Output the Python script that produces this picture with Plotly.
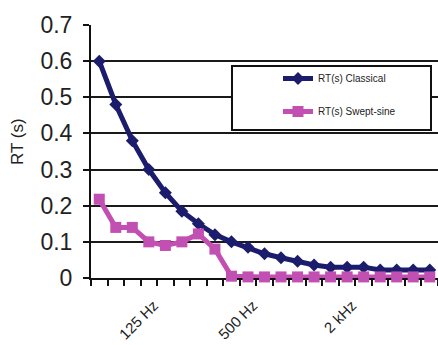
import plotly.graph_objects as go

# Third-octave band centres (category axis)
bands = ["63 Hz", "80 Hz", "100 Hz", "125 Hz", "160 Hz", "200 Hz", "250 Hz",
         "315 Hz", "400 Hz", "500 Hz", "630 Hz", "800 Hz", "1 kHz", "1.25 kHz",
         "1.6 kHz", "2 kHz", "2.5 kHz", "3.15 kHz", "4 kHz", "5 kHz", "6.3 kHz"]
shown_labels = ["125 Hz", "500 Hz", "2 kHz"]

rt_classical = [0.60, 0.48, 0.38, 0.30, 0.236, 0.185, 0.15, 0.12, 0.10, 0.085,
                0.067, 0.056, 0.046, 0.036, 0.030, 0.030, 0.030, 0.022, 0.022,
                0.022, 0.022]
rt_swept = [0.218, 0.14, 0.14, 0.10, 0.09, 0.10, 0.122, 0.08, 0.005, 0.003,
            0.003, 0.003, 0.003, 0.003, 0.003, 0.003, 0.003, 0.003, 0.003,
            0.003, 0.003]
y_ticks = [0, 0.1, 0.2, 0.3, 0.4, 0.5, 0.6, 0.7]

x_idx = list(range(len(bands)))
navy = "#1B1D6C"
magenta = "#C24FB2"
font = "Liberation Sans, Arial, sans-serif"

fig = go.Figure()
fig.add_trace(go.Scatter(
    x=x_idx, y=rt_classical, mode="lines+markers", name="RT(s) Classical",
    line=dict(color=navy, width=5), legendgroup="a",
    marker=dict(symbol="diamond", size=10, color=navy),
    cliponaxis=False))
fig.add_trace(go.Scatter(
    x=x_idx, y=rt_swept, mode="lines+markers", name="RT(s) Swept-sine",
    line=dict(color=magenta, width=5), legendgroup="b",
    marker=dict(symbol="square", size=11, color=magenta),
    cliponaxis=False))

L, R, T, B = 91, 0, 25, 67
W, H = 438, 345
pw, ph = W - L - R, H - T - B

def px_x(x):
    return (x - L) / pw

def px_y(y):
    return (H - B - y) / ph

fig.update_layout(
    width=W, height=H,
    margin=dict(l=L, r=R, t=T, b=B, pad=0, autoexpand=False),
    paper_bgcolor="white", plot_bgcolor="white",
    font=dict(family=font, color="#222"),
    showlegend=True,
    legend=dict(
        x=px_x(278), y=px_y(64), xanchor="left", yanchor="top",
        bgcolor="rgba(0,0,0,0)", borderwidth=0,
        font=dict(size=10, color="#222", family=font),
        tracegroupgap=14, itemwidth=30,
    ),
    xaxis=dict(
        range=[-0.5, len(bands) - 0.5],
        tickmode="array",
        tickvals=[bands.index(b) for b in shown_labels],
        ticktext=shown_labels,
        tickangle=-45,
        ticks="", showgrid=False, zeroline=False,
        showline=True, linecolor="#111", linewidth=2,
        tickfont=dict(size=15, color="#222"),
        ticklabelshift=5, ticklabelstandoff=11,
        minor=dict(tickmode="linear", tick0=0.5, dtick=1, ticks="outside",
                   ticklen=6, tickwidth=2, tickcolor="#111", showgrid=False),
        layer="below traces",
        automargin=False,
        fixedrange=True,
    ),
    yaxis=dict(
        range=[0, 0.7],
        tickmode="array", tickvals=y_ticks,
        ticktext=[f"{v:g}" for v in y_ticks],
        ticks="outside", ticklen=6, tickwidth=2, tickcolor="#111",
        showgrid=True, gridcolor="#1a1a1a", gridwidth=2,
        zeroline=False, showline=True, linecolor="#111", linewidth=2,
        tickfont=dict(size=23, color="#222"),
        ticklabelstandoff=6,
        automargin=False,
        fixedrange=True,
    ),
    shapes=[dict(
        type="rect", xref="paper", yref="paper", layer="above",
        x0=px_x(232), x1=px_x(431), y0=px_y(130), y1=px_y(66),
        fillcolor="white", line=dict(color="#111", width=2),
    )],
    annotations=[dict(
        text="RT (s)", xref="paper", yref="paper",
        x=px_x(17), y=px_y(142), textangle=-90, showarrow=False,
        font=dict(size=17, color="#222", family=font),
        xanchor="center", yanchor="middle",
    )],
)

fig.write_html("out.html",
               config={"displayModeBar": False},
               post_script="document.body.style.margin='0px';")
